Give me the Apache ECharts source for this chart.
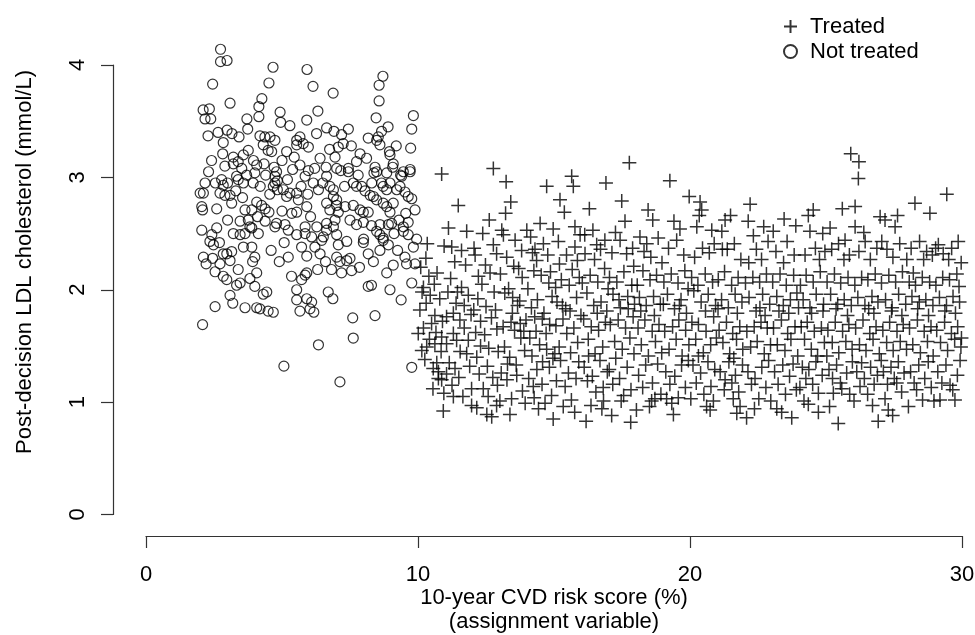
<!DOCTYPE html>
<html>
<head>
<meta charset="utf-8">
<script src="https://cdn.jsdelivr.net/npm/echarts@6/dist/echarts.min.js"></script>
<style>
  html, body { margin: 0; padding: 0; background: #fff; }
  #main { width: 975px; height: 635px; }
</style>
</head>
<body>
<div id="main"></div>
<script>
// axis ticks
var xTicks = [0, 10, 20, 30];
var yTicks = [0, 1, 2, 3, 4];

// risk score < 10 : not treated (circles)
var notTreated = [
  [2.74,4.14],[2.74,4.03],[2.98,4.04],[4.67,3.98],[5.92,3.96],[8.71,3.90],[8.57,3.82],[2.45,3.83],[4.52,3.84],[6.14,3.81],
  [6.88,3.75],[8.57,3.68],[3.09,3.66],[4.26,3.70],[4.15,3.63],[4.15,3.54],[4.93,3.58],[6.32,3.59],[2.10,3.60],[2.33,3.61],
  [2.17,3.52],[2.38,3.52],[3.71,3.52],[4.95,3.49],[5.29,3.46],[5.91,3.51],[8.46,3.53],[9.83,3.55],[9.77,3.43],[8.90,3.45],
  [8.66,3.41],[9.73,3.26],[2.28,3.37],[2.65,3.40],[2.98,3.42],[3.16,3.39],[3.42,3.36],[3.74,3.43],[2.84,3.31],[4.19,3.37],
  [4.37,3.36],[4.56,3.36],[4.74,3.33],[4.31,3.29],[4.49,3.24],[4.62,3.23],[5.17,3.23],[5.54,3.33],[5.66,3.36],[5.78,3.30],
  [5.97,3.27],[5.54,3.29],[6.27,3.39],[6.64,3.44],[6.91,3.41],[7.19,3.38],[7.25,3.30],[7.07,3.27],[7.44,3.43],[8.17,3.35],
  [8.48,3.33],[8.60,3.29],[8.54,3.36],[8.95,3.23],[8.97,3.20],
  [2.41,3.15],[2.82,3.21],[3.21,3.18],[3.21,3.12],[3.39,3.14],[3.58,3.20],[3.76,3.24],[3.52,3.08],[4.07,3.11],[4.34,3.12],
  [4.71,3.09],[4.80,3.05],[4.74,3.01],[4.83,2.97],[4.68,2.92],[5.39,3.07],[5.66,3.11],[5.97,3.06],[6.40,3.17],[6.62,3.09],
  [6.95,3.18],[7.01,3.08],[7.16,3.06],[7.44,3.08],[7.74,3.14],[7.87,3.21],[8.11,3.17],[8.42,3.09],[8.48,3.05],[8.38,3.04],
  [8.85,3.04],[9.09,3.12],[9.07,3.09],[9.36,3.02],[9.46,3.05],[9.71,3.07],
  [2.17,2.95],[1.99,2.86],[2.11,2.86],[2.05,2.74],[2.08,2.71],[2.60,2.72],[2.78,2.98],[2.84,2.93],[2.72,2.86],[2.90,2.84],
  [3.09,2.84],[3.15,2.77],[3.33,3.01],[3.39,2.98],[3.58,2.95],[3.64,2.71],[3.89,2.71],[3.94,2.95],[4.00,3.04],[4.07,2.78],
  [4.25,2.75],[4.38,2.72],[4.52,2.69],[4.74,2.95],[4.83,2.89],[5.05,2.89],[5.17,2.83],[5.29,2.86],[5.54,2.86],[5.60,2.80],
  [5.85,3.01],[6.15,2.95],[6.34,2.89],[5.36,2.68],[5.54,2.69],[5.91,2.74],[6.64,3.01],[6.76,2.92],[6.89,2.89],[6.89,2.83],
  [7.01,2.80],[7.01,2.75],[6.64,2.77],[6.76,2.71],[7.07,2.69],[7.44,3.05],[7.62,2.95],[7.74,2.92],[7.93,2.92],[7.32,2.74],
  [7.62,2.75],[7.87,2.71],[7.99,2.69],[8.17,2.69],[8.24,2.84],[8.36,2.83],[8.48,2.80],[8.66,2.95],[8.72,2.92],[8.85,2.89],
  [8.97,2.95],[8.72,2.77],[8.85,2.74],[8.97,2.69],[9.09,2.77],[9.22,2.89],[9.34,2.92],[9.52,2.87],[9.64,2.83],[9.77,2.81],
  [9.89,2.71],[9.71,3.05],[9.40,3.01],
  [3.46,2.61],[3.76,2.62],[3.82,2.56],[4.38,2.61],[4.80,2.59],[5.85,2.56],[6.28,2.56],[6.64,2.59],[7.74,2.58],[7.99,2.60],
  [8.29,2.57],[8.60,2.58],[9.03,2.59],[9.46,2.56],[9.64,2.60],
  [2.05,2.53],[2.35,2.43],[2.48,2.40],[2.42,2.49],[2.11,2.29],[2.21,2.23],[2.84,2.32],[2.97,2.32],[3.09,2.26],[3.15,2.34],
  [2.72,2.23],[2.84,2.12],[2.97,2.09],[2.54,2.16],[3.21,2.50],[3.46,2.49],[3.64,2.50],[3.89,2.55],[4.13,2.50],[3.58,2.38],
  [3.89,2.38],[4.00,2.29],[3.92,2.25],[3.39,2.18],[3.82,2.10],[4.07,2.15],[4.00,2.03],[3.46,2.06],[3.33,2.04],[3.09,1.95],
  [3.19,1.88],[2.54,1.85],[2.08,1.69],[3.64,1.84],[4.19,1.83],[4.68,1.80],[4.31,1.96],[4.44,1.98],[4.74,2.56],[5.11,2.58],
  [5.23,2.53],[5.54,2.49],[5.85,2.50],[6.09,2.47],[5.08,2.42],[5.23,2.29],[5.72,2.38],[5.91,2.30],[6.21,2.38],[6.40,2.32],
  [6.46,2.44],[6.52,2.47],[6.64,2.53],[6.89,2.56],[7.01,2.49],[7.07,2.40],[7.38,2.43],[5.72,2.09],[5.85,2.13],[5.91,2.15],
  [5.54,2.00],[5.54,1.91],[5.91,1.92],[6.09,1.89],[6.03,1.83],[6.17,1.80],[5.66,1.81],[6.31,2.18],[6.82,2.18],[7.19,2.15],
  [7.56,2.17],[7.01,2.29],[7.13,2.25],[7.38,2.26],[7.50,2.28],[6.70,1.98],[6.87,1.92],[7.60,1.75],[6.34,1.51],[7.62,1.57],
  [5.07,1.32],[7.13,1.18],[8.42,1.77],[8.17,2.03],[8.29,2.04],[8.97,2.00],[9.38,1.91],[9.77,2.06],[9.77,1.31],[7.99,2.42],
  [8.17,2.32],[8.36,2.25],[8.60,2.35],[8.72,2.44],[8.91,2.40],[9.09,2.22],[9.52,2.29],[9.58,2.23],[9.89,2.23],[9.83,2.38],
  [9.64,2.49],[9.46,2.52],[9.12,2.50],[8.91,2.58],[8.48,2.52],[8.60,2.49],[8.72,2.46],[4.07,1.84],[4.49,1.81],
  [2.30,3.05],[2.55,2.95],[2.90,3.10],[3.00,2.95],[3.30,2.88],[3.55,2.82],[3.70,3.02],[3.95,3.15],[4.20,2.92],[4.40,3.02],
  [4.55,2.85],[5.00,3.15],[5.20,2.98],[5.45,3.18],[5.70,2.92],[5.95,2.85],[6.20,3.08],[6.50,2.95],[6.75,3.25],[7.30,2.92],
  [7.55,3.28],[7.80,3.02],[8.05,2.88],[8.30,2.95],[9.20,3.28],[9.55,2.68],[2.60,2.55],[3.00,2.62],[4.10,2.65],[5.00,2.70],
  [6.05,2.65],[6.95,2.62],[7.50,2.62],[8.00,2.45],[9.30,2.62],[2.45,2.28],[2.70,2.42],[4.60,2.35],[4.90,2.25],[5.35,2.12],
  [6.60,2.25],[7.85,2.20],[8.85,2.15],[9.25,2.35],[9.95,2.45]
];

// risk score >= 10 : treated (crosses)
var treated = [
  [10.07,1.82],[10.20,1.66],[10.01,1.61],[10.14,1.46],[10.32,1.49],[10.62,1.52],[10.56,1.30],[10.69,1.35],[10.75,1.21],[10.87,1.20],
  [10.75,1.27],[10.62,1.77],[10.87,1.58],[10.34,2.41],[10.29,2.28],[10.96,2.39],[10.87,3.03],[10.93,0.92],[10.45,1.95],[10.20,2.02],
  [10.60,2.05],[10.80,1.92],[10.30,1.88],[10.50,1.70],[10.90,1.72],[10.15,1.98],[10.70,2.15],[10.40,2.12],[10.85,1.45],[10.25,1.38],
  [10.55,1.12],[10.95,1.08],[10.42,1.56],[10.66,1.62],[10.10,2.20],
  [11.05,1.76],[11.30,1.79],[11.54,1.73],[11.05,1.52],[11.30,1.61],[11.42,1.55],[11.36,1.30],[11.97,1.12],[11.79,1.43],[11.24,2.38],
  [11.48,2.75],[11.79,2.52],[11.97,0.97],[11.10,1.98],[11.20,2.10],[11.60,2.02],[11.85,1.95],[11.40,1.88],[11.70,1.66],[11.15,1.35],
  [11.50,1.22],[11.65,1.05],[11.90,1.32],[11.25,1.15],[11.55,1.45],[11.75,2.22],[11.35,2.25],[11.95,1.78],[11.12,2.55],[11.60,2.35],
  [11.85,1.55],[11.45,1.98],[11.05,1.25],[11.70,1.86],[11.30,1.05],
  [12.06,2.37],[12.10,2.31],[12.77,2.40],[12.89,2.32],[12.77,3.08],[12.16,1.40],[12.16,0.95],[12.53,0.89],[12.71,0.87],[12.89,0.97],
  [12.20,1.92],[12.35,2.05],[12.50,1.85],[12.65,2.15],[12.80,1.98],[12.30,1.72],[12.45,1.60],[12.60,1.48],[12.90,1.65],[12.25,1.25],
  [12.40,1.12],[12.55,1.32],[12.75,1.22],[12.95,1.45],[12.12,1.62],[12.38,2.50],[12.62,2.62],[12.48,2.22],[12.85,1.82],[12.05,1.82],
  [12.70,1.75],[12.30,1.50],[12.58,1.05],[12.92,1.15],[12.22,2.12],
  [13.24,2.96],[13.41,2.78],[13.22,2.68],[13.08,2.53],[13.14,2.49],[13.26,2.29],[13.81,2.35],[13.38,0.89],[13.03,2.14],[13.19,1.97],
  [13.33,2.01],[13.47,1.79],[13.52,2.21],[13.74,1.90],[13.83,2.11],[13.97,1.73],[13.13,1.67],[13.18,1.49],[13.37,1.40],[13.55,1.64],
  [13.61,1.33],[13.78,1.57],[13.92,1.46],[13.06,1.26],[13.27,1.20],[13.44,1.03],[13.63,1.24],[13.84,1.10],[13.94,0.99],[13.57,2.44],
  [13.70,2.19],[13.42,1.71],[13.66,1.86],[13.89,1.63],[13.29,1.34],[13.01,1.01],[13.48,1.93],[13.76,1.70],
  [14.00,2.53],[14.73,2.92],[14.30,2.36],[14.36,2.26],[14.97,2.54],[14.97,0.85],[14.04,2.01],[14.17,1.84],[14.26,2.17],[14.39,1.91],
  [14.53,2.13],[14.63,1.79],[14.81,2.06],[14.93,1.94],[14.11,1.57],[14.19,1.41],[14.34,1.63],[14.47,1.51],[14.58,1.36],[14.71,1.61],
  [14.84,1.69],[14.96,1.39],[14.07,1.21],[14.24,1.14],[14.37,1.29],[14.56,1.16],[14.67,0.99],[14.83,1.31],[14.91,1.06],[14.14,2.47],
  [14.49,2.59],[14.61,2.41],[14.77,2.31],[14.29,1.76],[14.57,1.74],[14.43,0.94],[14.21,2.33],[14.87,2.16],[14.73,1.47],[14.27,1.04],
  [15.65,3.01],[15.71,2.92],[15.22,2.80],[15.38,2.69],[15.77,2.56],[15.96,2.49],[15.16,2.43],[15.20,2.23],[15.77,2.38],[15.06,2.02],
  [15.11,1.89],[15.27,2.09],[15.43,1.83],[15.56,2.04],[15.67,2.18],[15.83,1.93],[15.93,2.11],[15.07,1.68],[15.19,1.49],[15.33,1.74],
  [15.47,1.61],[15.61,1.44],[15.73,1.66],[15.87,1.53],[15.99,1.77],[15.09,1.19],[15.24,1.37],[15.41,1.14],[15.53,1.26],[15.64,1.02],
  [15.81,1.21],[15.91,1.36],[15.34,0.96],[15.59,1.81],[15.46,2.31],[15.86,2.26],[15.03,1.43],[15.76,0.91],[15.31,1.86],
  [16.91,2.95],[16.30,2.72],[16.14,2.32],[16.57,2.40],[16.18,0.83],[16.04,2.06],[16.21,1.97],[16.33,2.13],[16.46,1.86],[16.61,2.07],
  [16.73,1.89],[16.86,2.19],[16.94,1.81],[16.09,1.74],[16.26,1.56],[16.37,1.67],[16.51,1.43],[16.64,1.64],[16.79,1.49],[16.89,1.71],
  [16.11,1.31],[16.23,1.19],[16.41,1.23],[16.54,1.09],[16.69,1.37],[16.81,1.13],[16.96,1.27],[16.36,0.97],[16.76,0.94],[16.13,2.49],
  [16.43,2.53],[16.71,2.36],[16.87,2.44],[16.27,1.41],[16.59,1.79],[16.99,2.01],[16.49,2.27],[16.82,1.01],
  [17.77,3.13],[17.49,2.79],[17.43,2.44],[17.67,2.32],[17.12,0.88],[17.82,0.82],[17.04,2.11],[17.17,1.96],[17.31,2.07],[17.44,1.84],
  [17.57,2.16],[17.71,1.94],[17.86,2.04],[17.96,1.87],[17.07,1.69],[17.23,1.54],[17.36,1.73],[17.51,1.47],[17.63,1.66],[17.79,1.57],
  [17.91,1.76],[17.03,1.29],[17.16,1.16],[17.27,1.39],[17.41,1.21],[17.56,1.06],[17.69,1.31],[17.83,1.11],[17.94,1.43],[17.26,2.51],
  [17.61,2.61],[17.89,2.37],[17.39,1.91],[17.73,1.83],[17.47,1.01],[17.13,2.33],[17.93,2.21],
  [18.16,2.47],[18.41,2.41],[18.63,2.62],[18.71,1.03],[18.06,2.04],[18.14,1.93],[18.27,2.17],[18.39,1.86],[18.53,2.09],[18.66,1.94],
  [18.77,2.13],[18.91,1.87],[18.09,1.66],[18.21,1.51],[18.34,1.73],[18.47,1.41],[18.61,1.63],[18.73,1.54],[18.86,1.69],[18.96,1.44],
  [18.11,1.24],[18.26,1.13],[18.37,1.33],[18.51,0.96],[18.62,1.17],[18.81,1.34],[18.93,1.07],[18.03,0.93],[18.31,2.34],[18.56,2.29],
  [18.83,2.46],[18.46,2.71],[18.69,1.77],[18.19,1.81],[18.97,2.24],[18.59,1.01],
  [19.26,2.97],[19.97,2.83],[19.63,2.54],[19.39,0.89],[19.14,1.03],[19.04,2.07],[19.17,1.96],[19.31,2.14],[19.43,1.83],[19.56,2.06],
  [19.67,1.91],[19.81,2.17],[19.93,2.01],[19.07,1.63],[19.23,1.47],[19.36,1.67],[19.49,1.56],[19.59,1.73],[19.71,1.41],[19.84,1.64],
  [19.96,1.51],[19.11,1.27],[19.26,1.16],[19.44,1.23],[19.57,1.04],[19.69,1.33],[19.83,1.13],[19.94,1.37],[19.21,2.37],[19.51,2.44],
  [19.77,2.31],[19.41,2.61],[19.61,1.86],[19.87,1.79],[19.33,0.99],[19.02,1.87],
  [20.37,2.78],[20.43,2.71],[20.34,2.66],[20.25,2.56],[20.80,2.53],[20.61,0.96],[20.74,0.93],[20.06,2.11],[20.14,1.99],[20.29,2.04],
  [20.41,1.89],[20.56,2.14],[20.67,1.96],[20.83,2.07],[20.94,1.86],[20.07,1.71],[20.21,1.56],[20.31,1.69],[20.49,1.44],[20.59,1.63],
  [20.76,1.51],[20.87,1.76],[20.97,1.57],[20.11,1.33],[20.23,1.17],[20.39,1.26],[20.51,1.07],[20.66,1.36],[20.77,1.14],[20.91,1.29],
  [20.46,2.37],[20.71,2.33],[20.89,2.41],[20.17,2.29],[20.57,1.81],[20.03,1.03],[20.86,1.01],[20.31,1.41],
  [21.29,2.62],[21.17,2.52],[21.29,1.20],[21.59,1.03],[21.84,0.96],[21.72,0.90],[21.04,2.09],[21.16,1.91],[21.27,2.16],[21.41,1.84],
  [21.53,2.04],[21.66,1.96],[21.77,2.11],[21.91,1.89],[21.07,1.64],[21.21,1.53],[21.34,1.71],[21.46,1.43],[21.57,1.61],[21.71,1.56],
  [21.83,1.67],[21.94,1.47],[21.11,1.27],[21.26,1.11],[21.43,1.36],[21.54,1.17],[21.67,1.24],[21.79,1.09],[21.93,1.33],[21.37,2.36],
  [21.63,2.41],[21.87,2.27],[21.49,2.66],[21.74,1.79],[21.03,1.83],[21.19,2.36],[21.61,1.39],
  [22.14,2.61],[22.21,2.76],[22.33,2.48],[22.08,0.86],[22.04,2.06],[22.17,1.93],[22.31,2.11],[22.43,1.81],[22.56,2.07],[22.67,1.96],
  [22.81,2.14],[22.93,1.87],[22.09,1.63],[22.23,1.49],[22.36,1.67],[22.47,1.54],[22.61,1.71],[22.73,1.43],[22.84,1.66],[22.96,1.51],
  [22.13,1.27],[22.26,1.16],[22.39,1.21],[22.53,1.03],[22.64,1.31],[22.79,1.13],[22.89,1.37],[22.44,2.36],[22.63,2.27],[22.87,2.43],
  [22.71,2.56],[22.57,1.84],[22.37,0.94],[22.97,1.01],[22.16,2.24],[22.76,1.77],
  [23.46,2.63],[23.06,2.52],[23.19,0.94],[23.37,0.91],[23.74,0.86],[23.04,2.07],[23.19,1.94],[23.31,2.14],[23.43,1.86],[23.54,2.04],
  [23.69,1.91],[23.81,2.13],[23.93,1.97],[23.07,1.66],[23.21,1.51],[23.36,1.73],[23.49,1.46],[23.59,1.61],[23.71,1.56],[23.86,1.67],
  [23.96,1.41],[23.11,1.27],[23.24,1.16],[23.41,1.33],[23.51,1.07],[23.66,1.23],[23.79,1.34],[23.91,1.11],[23.16,2.34],[23.57,2.43],
  [23.83,2.31],[23.89,2.57],[23.27,1.81],[23.63,1.79],[23.99,1.84],[23.44,2.24],
  [24.53,2.71],[24.35,2.66],[24.41,2.52],[24.88,2.50],[24.35,0.98],[24.72,0.91],[24.72,1.08],[24.04,1.13],[24.06,2.04],[24.16,1.91],
  [24.27,2.13],[24.41,1.84],[24.53,2.07],[24.64,1.96],[24.79,2.16],[24.91,1.87],[24.09,1.67],[24.21,1.56],[24.31,1.71],[24.46,1.47],
  [24.57,1.63],[24.69,1.41],[24.83,1.66],[24.94,1.53],[24.13,1.31],[24.26,1.21],[24.37,1.29],[24.51,1.16],[24.63,1.36],[24.86,1.24],
  [24.23,2.31],[24.61,2.37],[24.76,2.27],[24.96,2.34],[24.47,1.79],[24.89,1.81],[24.19,1.01],
  [25.91,3.21],[25.60,2.72],[25.15,2.55],[25.70,2.44],[25.45,0.81],[25.27,1.08],[25.58,1.12],[25.04,2.07],[25.17,1.96],[25.31,2.14],
  [25.43,1.87],[25.54,2.06],[25.67,1.91],[25.81,2.11],[25.93,1.86],[25.07,1.64],[25.23,1.53],[25.34,1.71],[25.47,1.44],[25.61,1.63],
  [25.73,1.54],[25.84,1.69],[25.96,1.47],[25.11,1.29],[25.24,1.21],[25.39,1.33],[25.53,1.17],[25.76,1.26],[25.87,1.07],[25.97,1.36],
  [25.21,2.36],[25.46,2.41],[25.86,2.31],[25.66,2.27],[25.37,1.83],[25.79,1.77],[25.13,0.96],[25.03,1.41],
  [26.21,3.14],[26.19,2.99],[26.07,2.74],[26.07,2.56],[26.99,2.65],[26.31,1.35],[26.25,1.14],[26.92,0.83],[26.06,2.04],[26.17,1.93],
  [26.31,2.11],[26.43,1.86],[26.54,2.09],[26.69,1.94],[26.81,2.14],[26.91,1.89],[26.09,1.66],[26.23,1.51],[26.36,1.73],[26.47,1.46],
  [26.61,1.61],[26.73,1.56],[26.84,1.67],[26.96,1.43],[26.13,1.27],[26.41,1.21],[26.53,1.07],[26.64,1.31],[26.77,1.16],[26.89,1.24],
  [26.21,2.34],[26.44,2.43],[26.63,2.27],[26.87,2.37],[26.57,1.83],[26.76,1.79],[26.03,1.01],[26.71,0.97],[26.39,2.51],
  [27.17,2.62],[27.54,2.56],[27.05,2.43],[27.97,2.27],[27.17,1.03],[27.29,0.93],[27.45,0.88],[27.60,1.17],[27.78,1.09],[27.04,2.06],
  [27.19,1.91],[27.31,2.13],[27.43,1.84],[27.56,2.07],[27.67,1.96],[27.81,2.16],[27.93,1.87],[27.09,1.64],[27.23,1.53],[27.34,1.71],
  [27.47,1.46],[27.61,1.63],[27.73,1.54],[27.84,1.69],[27.96,1.47],[27.11,1.27],[27.26,1.16],[27.39,1.31],[27.51,1.21],[27.66,1.36],
  [27.87,1.26],[27.24,2.36],[27.46,2.29],[27.71,2.41],[27.63,2.66],[27.41,1.81],[27.79,1.77],[27.03,1.37],
  [28.27,2.77],[28.82,2.68],[28.70,2.34],[28.21,2.15],[28.33,1.11],[28.55,1.02],[28.06,2.07],[28.16,1.94],[28.29,2.04],[28.43,1.89],
  [28.54,2.11],[28.67,1.91],[28.81,2.07],[28.93,1.86],[28.07,1.66],[28.19,1.51],[28.36,1.73],[28.47,1.44],[28.61,1.63],[28.73,1.54],
  [28.86,1.67],[28.94,1.41],[28.11,1.27],[28.24,1.17],[28.41,1.33],[28.63,1.21],[28.76,1.36],[28.87,1.13],[28.13,2.37],[28.44,2.43],
  [28.59,2.27],[28.91,2.31],[28.37,1.83],[28.77,1.77],[28.03,0.96],[28.97,1.01],
  [29.44,2.85],[29.13,2.40],[29.31,2.32],[29.62,2.37],[29.19,1.02],[29.74,1.02],[29.56,1.15],[29.66,1.11],[29.04,2.04],[29.17,1.93],
  [29.29,2.11],[29.43,1.86],[29.54,2.09],[29.67,1.94],[29.81,2.14],[29.91,1.89],[29.07,1.64],[29.21,1.53],[29.36,1.71],[29.47,1.46],
  [29.61,1.61],[29.73,1.56],[29.84,1.67],[29.96,1.49],[29.11,1.27],[29.26,1.17],[29.41,1.33],[29.83,1.24],[29.93,1.37],[29.03,2.37],
  [29.51,2.27],[29.86,2.43],[29.97,2.24],[29.37,1.81],[29.76,1.79],[29.98,1.57],[29.89,2.03]
];

var plusPath = 'path://M0,6L12,6M6,0L6,12';
var font = 'Liberation Sans, Arial, sans-serif';

var chart = echarts.init(document.getElementById('main'));
var option = {
  animation: false,
  backgroundColor: '#fff',
  textStyle: { fontFamily: font },
  grid: { left: 146, right: 13, top: 65, bottom: 120.5, outerBoundsMode: 'none' },
  legend: {
    orient: 'vertical',
    left: 778,
    top: 9,
    itemWidth: 13,
    itemHeight: 13,
    itemGap: 0,
    textStyle: { fontSize: 22, color: '#000', fontFamily: font, lineHeight: 25, padding: [0, 0, 0, 8] },
    data: [
      { name: 'Treated', icon: plusPath },
      { name: 'Not treated', icon: 'circle' }
    ]
  },
  xAxis: {
    type: 'value',
    min: xTicks[0],
    max: xTicks[xTicks.length - 1],
    interval: 10,
    offset: 21.5,
    name: '10-year CVD risk score (%)\n(assignment variable)',
    nameLocation: 'middle',
    nameGap: 50,
    nameMoveOverlap: false,
    nameTextStyle: { fontSize: 22, color: '#000', lineHeight: 24, verticalAlign: 'top' },
    axisLine: { show: true, onZero: false, lineStyle: { color: '#333', width: 1.2 } },
    axisTick: { show: true, length: 12, lineStyle: { color: '#333', width: 1.2 } },
    axisLabel: { fontSize: 22, color: '#000', margin: 28 },
    splitLine: { show: false }
  },
  yAxis: {
    type: 'value',
    min: yTicks[0],
    max: yTicks[yTicks.length - 1],
    interval: 1,
    offset: 33,
    axisLine: { show: true, onZero: false, lineStyle: { color: '#333', width: 1.2 } },
    axisTick: { show: true, length: 12, lineStyle: { color: '#333', width: 1.2 } },
    axisLabel: { fontSize: 22, color: '#000', rotate: 90, margin: 24 },
    splitLine: { show: false }
  },
  graphic: [{
    type: 'text',
    x: 25,
    y: 262,
    rotation: Math.PI / 2,
    style: {
      text: 'Post-decision LDL cholesterol (mmol/L)',
      font: '22px ' + font,
      fill: '#000',
      textAlign: 'center',
      textVerticalAlign: 'middle'
    }
  }],
  series: [
    {
      name: 'Treated',
      type: 'scatter',
      clip: false,
      symbol: plusPath,
      symbolSize: 14,
      itemStyle: { color: 'rgba(0,0,0,0)', borderColor: '#000', borderWidth: 1.5 },
      data: treated
    },
    {
      name: 'Not treated',
      type: 'scatter',
      clip: false,
      symbol: 'circle',
      symbolSize: 10,
      itemStyle: { color: 'rgba(0,0,0,0)', borderColor: '#000', borderWidth: 1.2 },
      data: notTreated
    }
  ]
};
chart.setOption(option);
</script>
</body>
</html>
